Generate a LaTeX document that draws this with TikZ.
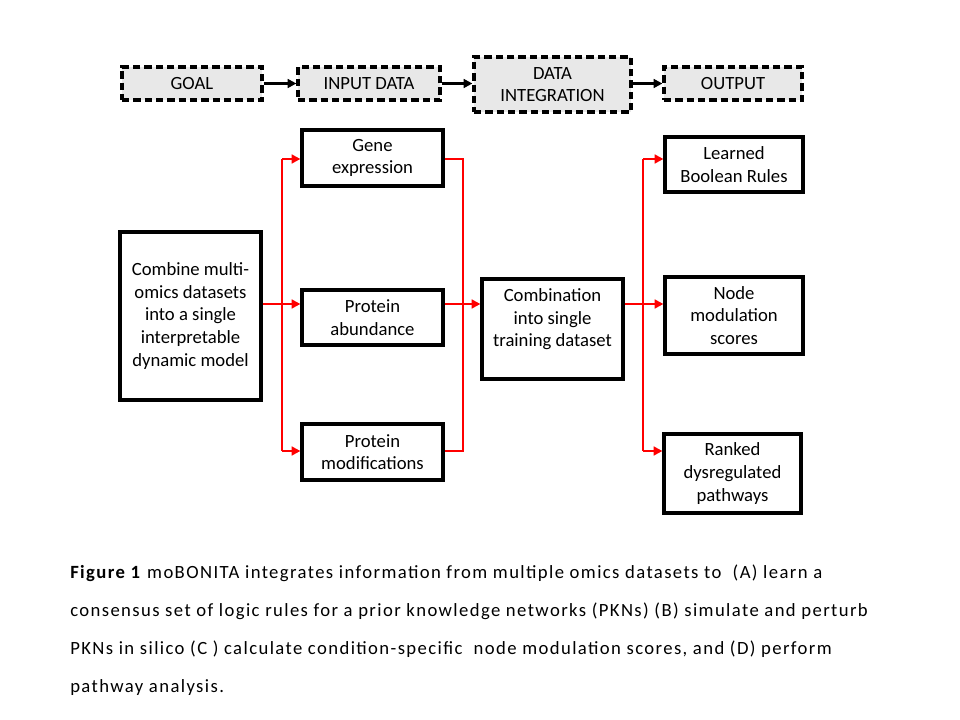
\documentclass[tikz,border=0pt]{standalone}
\usepackage{fontspec}
\setmainfont{Carlito}
\newfontfamily\capfont[LetterSpace=7.5]{Carlito}
\usetikzlibrary{arrows.meta}

\tikzset{
  box/.style={draw=black, line width=2.4pt, fill=white, align=center, inner sep=0pt,
    font=\fontsize{14}{16.9}\selectfont},
  stagebox/.style={box, fill=gray!18, dash pattern=on 5.5pt off 3pt},
  flow/.style={draw=red, line width=2.1pt},
  flowtip/.style={flow, -{Triangle[length=6.5pt,width=6.5pt]}},
  stagetip/.style={draw=black, line width=1.8pt, -{Triangle[length=6.5pt,width=6.5pt]}}
}

\begin{document}
\begin{tikzpicture}[x=0.75pt,y=-0.75pt]
\useasboundingbox (0,0) rectangle (960,720);

\node[stagebox, minimum width=105pt, minimum height=24.75pt] (goal) at (192,83.5) {GOAL};
\node[stagebox, minimum width=106.5pt, minimum height=24.75pt] (input) at (369,83.5) {INPUT DATA};
\node[stagebox, minimum width=117.75pt, minimum height=41.25pt] (integ) at (552.5,84.5) {DATA\\INTEGRATION};
\node[stagebox, minimum width=103.5pt, minimum height=24.75pt] (output) at (733,83.5) {OUTPUT};
\draw[stagetip] (goal) -- (input);
\draw[stagetip] (input) -- (integ.west |- input);
\draw[stagetip] (integ.east |- output) -- (output);

\node[box, minimum width=105.75pt, minimum height=126pt] (combine) at (190.5,316)
  {Combine multi-\\omics datasets\\into a single\\interpretable\\dynamic model};
\node[box, minimum width=105.75pt, minimum height=42pt] (gene) at (372.5,158) {Gene\\expression};
\node[box, minimum width=105.75pt, minimum height=41.25pt] (abund) at (372.5,317.5) {Protein\\abundance};
\node[box, minimum width=105.75pt, minimum height=42pt] (modif) at (372.5,452) {Protein\\modifications};
\node[box, minimum width=105.75pt, minimum height=75pt] (train) at (552.5,329)
  {Combination\\into single\\training dataset\\ \mbox{}};
\node[box, minimum width=103.5pt, minimum height=41.25pt] (learned) at (734,164.5) {Learned\\Boolean Rules};
\node[box, minimum width=103.5pt, minimum height=57.75pt] (nodemod) at (734,315.5) {Node\\modulation\\scores};
\node[box, minimum width=102.75pt, minimum height=59.25pt] (ranked) at (732.5,473.5) {Ranked\\dysregulated\\pathways};

\coordinate (rowA) at (0,159);
\coordinate (rowB) at (0,304);
\coordinate (rowC) at (0,451);
\coordinate (busL) at (282,0);
\coordinate (busM) at (463,0);
\coordinate (busR) at (643,0);

\draw[flow] (busL |- rowA) -- (busL |- rowC);
\draw[flowtip] (combine.east |- rowB) -- (abund.west |- rowB);
\draw[flowtip] (busL |- rowA) -- (gene.west |- rowA);
\draw[flowtip] (busL |- rowC) -- (modif.west |- rowC);

\draw[flow] (gene.east |- rowA) -| (busM |- rowC) -- (modif.east |- rowC);
\draw[flowtip] (abund.east |- rowB) -- (train.west |- rowB);

\draw[flow] (busR |- rowA) -- (busR |- rowC);
\draw[flowtip] (train.east |- rowB) -- (nodemod.west |- rowB);
\draw[flowtip] (busR |- rowA) -- (learned.west |- rowA);
\draw[flowtip] (busR |- rowC) -- (ranked.west |- rowC);

\node[anchor=north west, align=left, inner sep=0pt, font=\capfont\fontsize{14}{28.5}\selectfont] (caption) at (70,565)
  {\textbf{Figure 1} moBONITA integrates information from multiple omics datasets to\ \ (A) learn a\\
   consensus set of logic rules for a prior knowledge networks (PKNs) (B) simulate and perturb\\
   PKNs in silico (C ) calculate condition-specific\ \ node modulation scores, and (D) perform\\
   pathway analysis.};
\end{tikzpicture}
\end{document}
